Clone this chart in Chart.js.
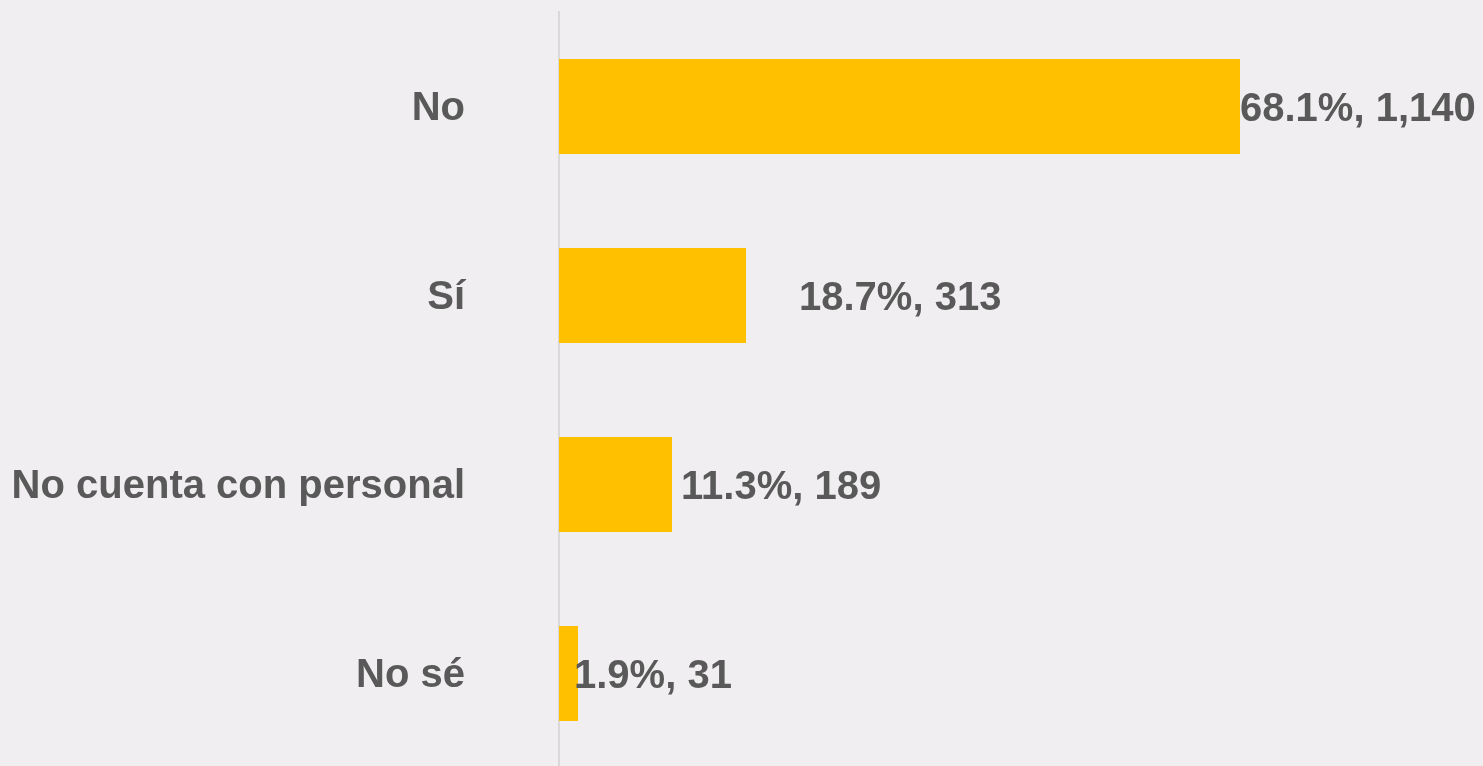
<!DOCTYPE html>
<html>
<head>
<meta charset="utf-8">
<script src="https://cdn.jsdelivr.net/npm/chart.js@4/dist/chart.umd.min.js"></script>
<style>
    html, body { margin: 0; padding: 0; background: #f0eef0; overflow: hidden; }
    #wrap { width: 1483px; height: 766px; overflow: hidden; }
</style>
</head>
<body>
<div id="wrap"><canvas id="myChart" width="1483" height="768"></canvas></div>
<script>
// Chart data
const categories = ['No', 'Sí', 'No cuenta con personal', 'No sé'];
const percents = [68.1, 18.7, 11.3, 1.9];
const counts = [1140, 313, 189, 31];

// label shift from bar end (px), as placed in the original
const labelShift = [0, 53, 9, -4];

const textColor = '#595959';
const barColor = '#ffc000';

// draws "68.1%, 1,140" style labels next to each bar
const valueLabels = {
    id: 'valueLabels',
    afterDatasetsDraw(chart) {
        const ctx = chart.ctx;
        const meta = chart.getDatasetMeta(0);
        ctx.save();
        ctx.font = 'bold 40px "Liberation Sans", Arial, sans-serif';
        ctx.fillStyle = textColor;
        ctx.textAlign = 'left';
        ctx.textBaseline = 'middle';
        meta.data.forEach((bar, i) => {
            const txt = percents[i].toFixed(1) + '%, ' + counts[i].toLocaleString('en-US');
            ctx.fillText(txt, bar.x + labelShift[i], bar.y + 3);
        });
        ctx.restore();
    }
};

const ctx = document.getElementById('myChart').getContext('2d');
const myChart = new Chart(ctx, {
    type: 'bar',
    data: {
        labels: categories,
        datasets: [{
            data: percents,
            backgroundColor: barColor,
            borderWidth: 0,
            categoryPercentage: 1,
            barPercentage: 0.503,
        }],
    },
    options: {
        indexAxis: 'y',
        responsive: false,
        animation: false,
        devicePixelRatio: 1,
        layout: { padding: { top: 12, left: 0, right: 0, bottom: 0 } },
        plugins: {
            legend: { display: false },
            tooltip: { enabled: false },
        },
        scales: {
            x: {
                display: false,
                min: 0,
                max: 92.4,
            },
            y: {
                // grid kept on only so tickLength spaces the labels; lines are invisible
                grid: { display: true, color: 'rgba(0,0,0,0)', drawTicks: true, tickLength: 94 },
                border: { display: true, color: '#d9d9d9', width: 2 },
                ticks: {
                    color: textColor,
                    padding: 0,
                    labelOffset: 2,
                    font: { family: '"Liberation Sans", Arial, sans-serif', size: 40, weight: 'bold', lineHeight: 0.001 },
                },
                afterFit(scale) { scale.width = 559; },
            },
        },
    },
    plugins: [valueLabels],
});
</script>
</body>
</html>
